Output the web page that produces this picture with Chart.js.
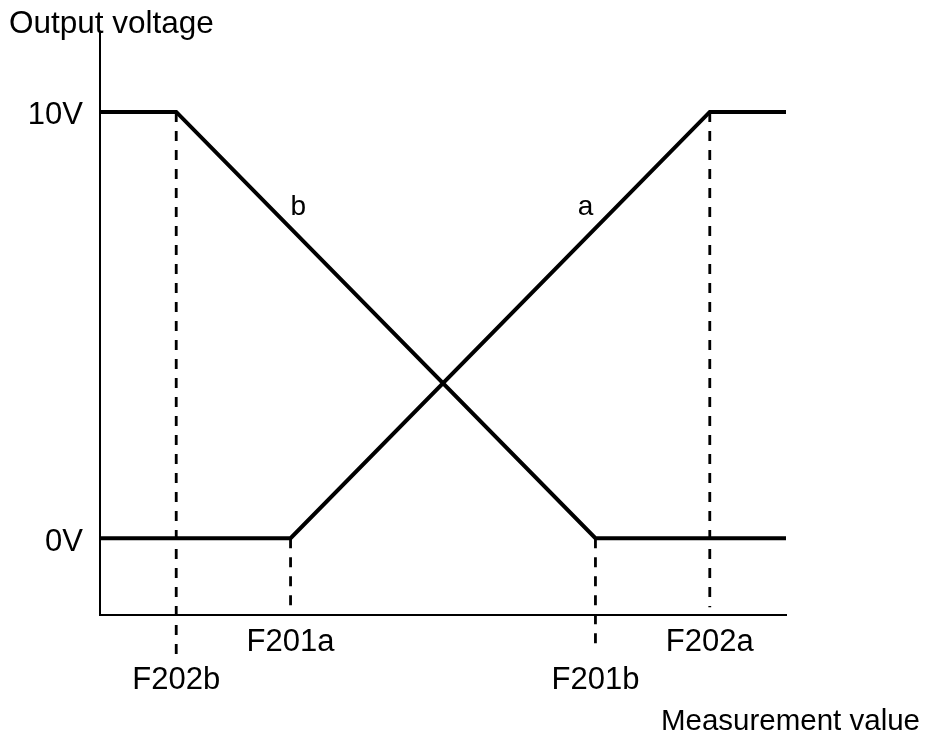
<!DOCTYPE html>
<html>
<head>
<meta charset="utf-8">
<title>Output voltage vs measurement value</title>
<script src="https://cdn.jsdelivr.net/npm/chart.js@4/dist/chart.umd.min.js"></script>
<style>
  html, body { margin: 0; padding: 0; background: #fff; }
  #wrap { width: 927px; height: 735px; }
</style>
</head>
<body>
<div id="wrap"><canvas id="chart" width="927" height="735"></canvas></div>
<script>
// Analog output a: 0 V up to F201a, linear ramp, 10 V from F202a on
const curveAX = [0, 2.5, 8, 9];
const curveAY = [0, 0, 10, 10];
// Analog output b: 10 V up to F202b, linear fall, 0 V from F201b on
const curveBX = [0, 1, 6.5, 9];
const curveBY = [10, 10, 0, 0];

// Set points marked on the measurement axis
const guideLabels = ['F202b', 'F201a', 'F201b', 'F202a'];
const guideX = [1, 2.5, 6.5, 8];
const guideFrom = [10, 0, 0, 10];
const guideTo = [-2.75, -1.62, -2.55, -1.62];
const guideRow = [1, 0, 1, 0];

// Voltage ticks
const voltageTicks = [0, 10];

// Curve names and where they sit
const curveNames = ['a', 'b'];
const curveNameX = [6.37, 2.6];
const curveNameY = [7.58, 7.58];

const FONT = '"Liberation Sans", Arial, sans-serif';

const toPoints = (xs, ys) => xs.map((x, i) => ({ x: x, y: ys[i] }));

const datasets = [
  { label: 'a', data: toPoints(curveAX, curveAY), borderColor: '#000', borderWidth: 4,
    pointRadius: 0, tension: 0, borderJoinStyle: 'miter' },
  { label: 'b', data: toPoints(curveBX, curveBY), borderColor: '#000', borderWidth: 4,
    pointRadius: 0, tension: 0, borderJoinStyle: 'miter' }
];
guideX.forEach((x, i) => {
  datasets.push({
    label: guideLabels[i],
    data: [{ x: x, y: guideFrom[i] }, { x: x, y: guideTo[i] }],
    borderColor: '#000', borderWidth: 2.8, borderDash: [10, 9],
    pointRadius: 0, clip: false
  });
});

// Axis captions and curve names
const captions = {
  id: 'captions',
  afterDraw(chart) {
    const { ctx, chartArea, scales } = chart;
    ctx.save();
    ctx.fillStyle = '#000';
    ctx.font = '31.5px ' + FONT;
    ctx.textBaseline = 'alphabetic';
    ctx.textAlign = 'left';
    ctx.fillText('Output voltage', 9, chartArea.top);
    ctx.font = '29.5px ' + FONT;
    ctx.textAlign = 'right';
    ctx.fillText('Measurement value', 920, 730);
    ctx.font = '28px ' + FONT;
    ctx.textAlign = 'center';
    curveNames.forEach((n, i) => {
      ctx.fillText(n, scales.x.getPixelForValue(curveNameX[i]), scales.y.getPixelForValue(curveNameY[i]));
    });
    ctx.restore();
  }
};

new Chart(document.getElementById('chart'), {
  type: 'line',
  data: { datasets: datasets },
  options: {
    responsive: false,
    animation: false,
    devicePixelRatio: 1,
    layout: { padding: { top: 33, right: 141, left: 0, bottom: 0 } },
    plugins: { legend: { display: false }, tooltip: { enabled: false } },
    scales: {
      x: {
        type: 'linear', min: 0, max: 9,
        grid: { display: false },
        border: { display: true, color: '#000', width: 2 },
        afterBuildTicks: (s) => { s.ticks = guideX.map(v => ({ value: v })); },
        afterFit: (s) => { s.height = 120; },
        ticks: {
          autoSkip: false, maxRotation: 0, padding: 1, color: '#000',
          font: { family: FONT, size: 31, lineHeight: 1.22 },
          callback: (v) => {
            const i = guideX.indexOf(v);
            return guideRow[i] ? ['', guideLabels[i]] : guideLabels[i];
          }
        }
      },
      y: {
        type: 'linear', min: -1.8, max: 11.85,
        grid: { display: false },
        border: { display: true, color: '#000', width: 2 },
        afterBuildTicks: (s) => { s.ticks = voltageTicks.map(v => ({ value: v })); },
        afterFit: (s) => { s.width = 100; },
        ticks: {
          padding: 9, labelOffset: 4, color: '#000',
          font: { family: FONT, size: 31 },
          callback: (v) => v + 'V'
        }
      }
    }
  },
  plugins: [captions]
});
</script>
</body>
</html>
